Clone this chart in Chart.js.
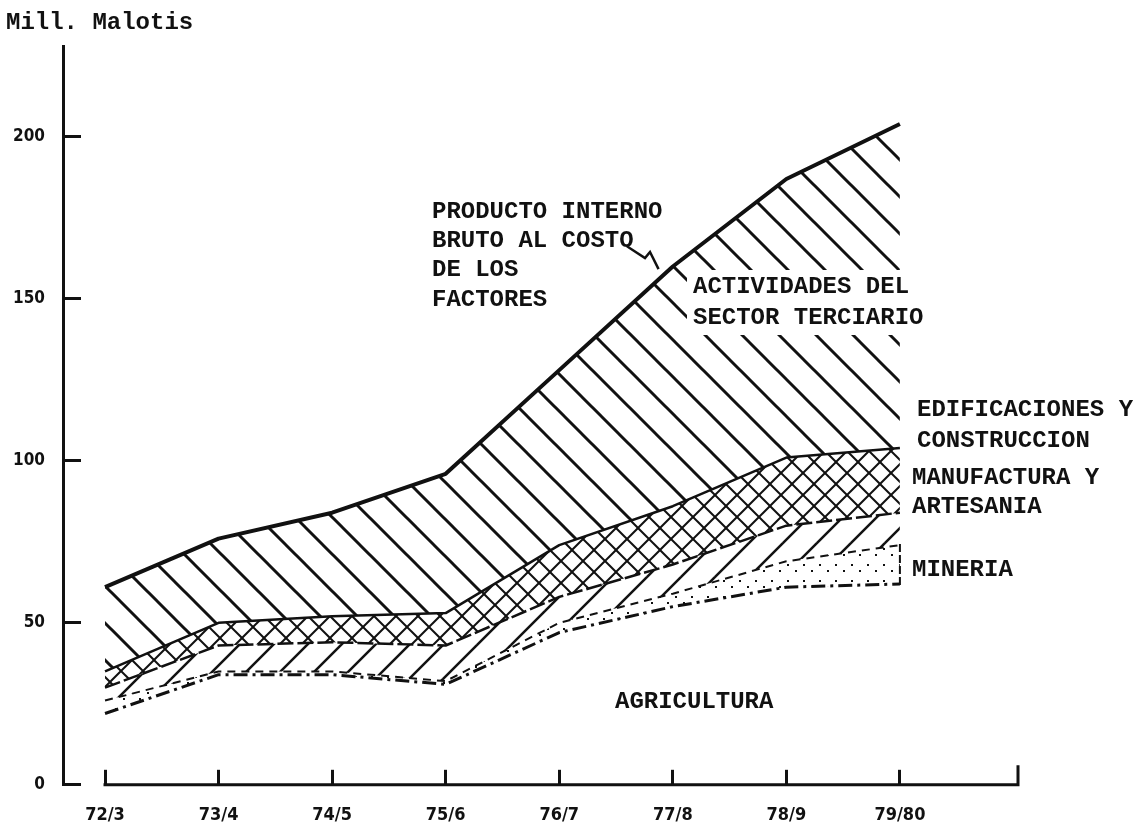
<!DOCTYPE html>
<html>
<head>
<meta charset="utf-8">
<script src="https://cdn.jsdelivr.net/npm/chart.js@4.4.0/dist/chart.umd.min.js"></script>
<style>
  html, body { margin: 0; padding: 0; background: #fff; }
  canvas { display: block; background: #fff; }
</style>
</head>
<body>
<canvas id="chart" width="1139" height="831"></canvas>
<script>
// values, Mill. Malotis
const years = ['72/3', '73/4', '74/5', '75/6', '76/7', '77/8', '78/9', '79/80'];
const agricultura = [22, 34, 34, 31, 47, 55, 61, 62];
const mineria = [4, 1, 1, 1, 3, 4, 8, 12];
const manufactura = [4, 8, 9, 11, 8, 9, 11, 10];
const edificaciones = [5, 7, 8, 10, 16, 18, 21, 20];
const terciario = [26, 26, 32, 43, 54, 74, 86, 100];
const yTicks = [0, 50, 100, 150, 200];

const INK = '#111';
const TYPE = "bold 24px 'Liberation Mono', 'DejaVu Sans Mono', monospace";

// text written on the drawing (left edge, middle line); clear = blank out hatching behind it
const notes = [
    { text: 'PRODUCTO INTERNO', x: 432, y: 212 },
    { text: 'BRUTO AL COSTO', x: 432, y: 241 },
    { text: 'DE LOS', x: 432, y: 270 },
    { text: 'FACTORES', x: 432, y: 300 },
    { text: 'ACTIVIDADES DEL', x: 693, y: 287, clear: true },
    { text: 'SECTOR TERCIARIO', x: 693, y: 318, clear: true },
    { text: 'EDIFICACIONES Y', x: 917, y: 410 },
    { text: 'CONSTRUCCION', x: 917, y: 441 },
    { text: 'MANUFACTURA Y', x: 912, y: 478 },
    { text: 'ARTESANIA', x: 912, y: 507 },
    { text: 'MINERIA', x: 912, y: 570 },
    { text: 'AGRICULTURA', x: 615, y: 702 }
];

// hatch tiles used as area fills
function hatch(kind, size, width) {
    const c = document.createElement('canvas');
    c.width = size;
    c.height = size;
    const g = c.getContext('2d');
    g.strokeStyle = INK;
    g.lineWidth = width;
    const seg = (x1, y1, x2, y2) => { g.beginPath(); g.moveTo(x1, y1); g.lineTo(x2, y2); g.stroke(); };
    if (kind === '\\' || kind === 'x') {
        seg(-2, -2, size + 2, size + 2);
        seg(size - 2, -2, size + 2, 2);
        seg(-2, size - 2, 2, size + 2);
    }
    if (kind === '/' || kind === 'x') {
        seg(-2, size + 2, size + 2, -2);
        seg(-2, 2, 2, -2);
        seg(size - 2, size + 2, size + 2, size - 2);
    }
    if (kind === '.') {
        g.fillStyle = INK;
        g.fillRect(3, 4, 2, 2);
        g.fillRect(size / 2 + 3, size / 2 + 2, 2, 2);
    }
    return g.createPattern(c, 'repeat');
}

const pts = arr => arr.map((v, i) => ({ x: i, y: v }));

const paperPlugin = {
    id: 'paper',
    afterDraw(chart) {
        const { ctx, chartArea, scales } = chart;
        const xs = scales.x, ys = scales.y;
        ctx.save();
        ctx.strokeStyle = INK;
        ctx.lineCap = 'square';

        // x axis line starts at the first year and ends with an upward tick
        ctx.lineWidth = 3;
        ctx.beginPath();
        ctx.moveTo(xs.getPixelForValue(0), chartArea.bottom);
        ctx.lineTo(chartArea.right, chartArea.bottom);
        ctx.lineTo(chartArea.right, chartArea.bottom - 18);
        ctx.stroke();

        // dashed edge closing the mineria band at the last year
        const last = years.length - 1;
        ctx.lineWidth = 2;
        ctx.setLineDash([6, 5]);
        ctx.beginPath();
        ctx.moveTo(xs.getPixelForValue(last), ys.getPixelForValue(agricultura[last]));
        ctx.lineTo(xs.getPixelForValue(last), ys.getPixelForValue(agricultura[last] + mineria[last]));
        ctx.stroke();
        ctx.setLineDash([]);

        // small pointer from the PIB note to the top line
        ctx.lineWidth = 2.5;
        ctx.beginPath();
        ctx.moveTo(628, 247);
        ctx.lineTo(645, 258);
        ctx.lineTo(650, 252);
        ctx.lineTo(658, 268);
        ctx.stroke();

        ctx.textBaseline = 'middle';
        ctx.textAlign = 'left';
        ctx.font = TYPE;
        notes.forEach(n => {
            if (n.clear) {
                ctx.fillStyle = '#fff';
                ctx.fillRect(n.x - 6, n.y - 17, ctx.measureText(n.text).width + 12, 34);
            }
        });
        ctx.fillStyle = INK;
        notes.forEach(n => ctx.fillText(n.text, n.x, n.y));
        ctx.font = "bold 24px 'Liberation Mono', 'DejaVu Sans Mono', monospace";
        ctx.fillText('Mill. Malotis', 6, 23);
        ctx.restore();
    }
};

const tickFont = { family: "'Liberation Sans Narrow', 'DejaVu Sans Condensed', sans-serif", size: 18, weight: 'bold' };

new Chart(document.getElementById('chart').getContext('2d'), {
    type: 'line',
    data: {
        datasets: [
            {
                label: 'AGRICULTURA',
                data: pts(agricultura),
                fill: 'origin',
                backgroundColor: 'rgba(0,0,0,0)',
                borderColor: INK,
                borderWidth: 3,
                borderDash: [14, 5, 3, 5]
            },
            {
                label: 'MINERIA',
                data: pts(mineria),
                fill: '-1',
                backgroundColor: hatch('.', 16, 1),
                borderColor: INK,
                borderWidth: 2,
                borderDash: [8, 6]
            },
            {
                label: 'MANUFACTURA Y ARTESANIA',
                data: pts(manufactura),
                fill: '-1',
                backgroundColor: hatch('/', 34, 2.5),
                borderColor: INK,
                borderWidth: 2.5,
                borderDash: [16, 4]
            },
            {
                label: 'EDIFICACIONES Y CONSTRUCCION',
                data: pts(edificaciones),
                fill: '-1',
                backgroundColor: hatch('x', 22, 2),
                borderColor: INK,
                borderWidth: 2.5
            },
            {
                label: 'ACTIVIDADES DEL SECTOR TERCIARIO',
                data: pts(terciario),
                fill: '-1',
                backgroundColor: hatch('\\', 37, 3),
                borderColor: INK,
                borderWidth: 4
            }
        ]
    },
    options: {
        responsive: false,
        animation: false,
        layout: { padding: { top: 42, right: 121, bottom: 0, left: 0 } },
        elements: {
            point: { radius: 0 },
            line: { tension: 0, borderJoinStyle: 'round' }
        },
        plugins: {
            legend: { display: false },
            tooltip: { enabled: false }
        },
        scales: {
            x: {
                type: 'linear',
                min: -0.37,
                max: 8.04,
                border: { display: false },
                grid: { drawOnChartArea: false, tickLength: -15, lineWidth: 3, color: INK },
                ticks: {
                    padding: 35,
                    color: INK,
                    font: tickFont,
                    callback: v => years[v] || ''
                },
                afterBuildTicks: s => { s.ticks = years.map((_, i) => ({ value: i })); },
                afterFit: s => { s.height = 41; }
            },
            y: {
                stacked: true,
                min: 0,
                max: 228,
                border: { display: true, width: 3, color: INK },
                grid: { drawOnChartArea: false, tickLength: -18, lineWidth: 3, color: INK },
                ticks: {
                    padding: 36,
                    color: INK,
                    font: { family: tickFont.family, size: 17, weight: 'bold' }
                },
                afterBuildTicks: s => { s.ticks = yTicks.map(v => ({ value: v })); },
                afterFit: s => { s.width = 63; }
            }
        }
    },
    plugins: [paperPlugin]
});
</script>
</body>
</html>
